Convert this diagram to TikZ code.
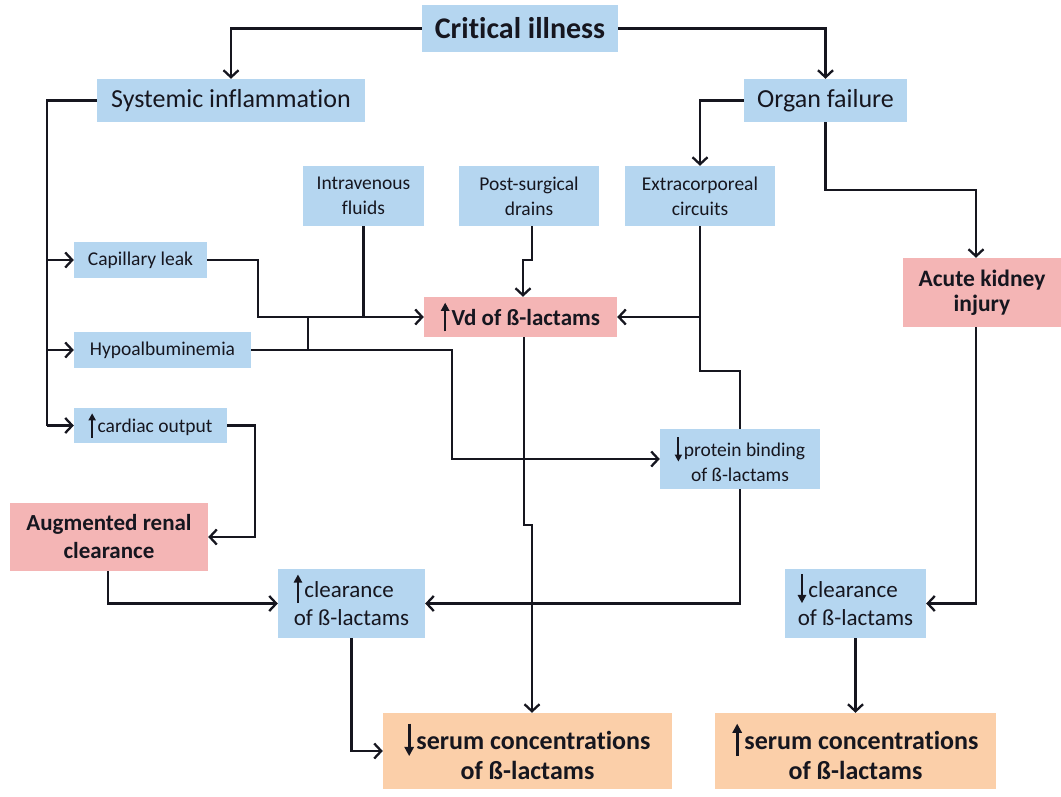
\documentclass[tikz,border=0pt]{standalone}
\usepackage{fontspec}
\setmainfont{Carlito}[Ligatures={NoCommon}]
\usetikzlibrary{arrows.meta}
\definecolor{bbl}{HTML}{B5D6F0}
\definecolor{bpk}{HTML}{F4B5B5}
\definecolor{bor}{HTML}{FBCFA9}
\definecolor{txt}{HTML}{16161F}
\newcommand{\uarr}{\tikz[baseline=0pt]\draw[txt,line width=0.11em,-{Triangle[length=0.36em,width=0.36em]}] (0,-0.25em) -- (0,1.0em);\hspace{0.1em}}
\newcommand{\darr}{\tikz[baseline=0pt]\draw[txt,line width=0.11em,-{Triangle[length=0.36em,width=0.36em]}] (0,1.0em) -- (0,-0.25em);\hspace{0.1em}}
\tikzset{
  box/.style={rectangle, inner sep=0pt, text=txt, align=center},
  bluebox/.style={box, fill=bbl},
  pinkbox/.style={box, fill=bpk},
  orbox/.style={box, fill=bor},
  small/.style={font=\fontsize{19.5}{25}\selectfont},
  mid/.style={font=\fontsize{23}{28}\selectfont},
  big/.style={font=\fontsize{26}{30}\selectfont},
  conn/.style={draw=txt, line width=2.3pt},
  arr/.style={conn, -{Straight Barb[length=7pt,width=15pt,line width=2.3pt]}},
}
\begin{document}
\begin{tikzpicture}[x=1pt,y=-1pt]
\useasboundingbox (0,0) rectangle (1061,797);
% nodes
\node[bluebox, minimum width=196pt, minimum height=47pt, font=\fontsize{30}{34}\selectfont\bfseries] (CI) at (520,28.5) {Critical illness};
\node[bluebox, big, minimum width=268pt, minimum height=43pt] (SI) at (231,100.5) {Systemic inflammation};
\node[bluebox, big, minimum width=163pt, minimum height=43pt] (OF) at (825.5,100.5) {Organ failure};
\node[bluebox, small, minimum width=121pt, minimum height=60pt] (IV) at (363.5,196) {Intravenous\\fluids};
\node[bluebox, small, minimum width=140pt, minimum height=60pt] (PS) at (529,196) {Post-surgical\\drains};
\node[bluebox, small, minimum width=150pt, minimum height=60pt] (EC) at (700,196) {Extracorporeal\\circuits};
\node[pinkbox, font=\fontsize{23.5}{25}\selectfont\bfseries, minimum width=158pt, minimum height=69pt] (AKI) at (982,292.5) {Acute kidney\\injury};
\node[bluebox, small, minimum width=133pt, minimum height=36pt] (CL) at (140.5,260) {Capillary leak};
\node[bluebox, small, minimum width=177pt, minimum height=36pt] (HA) at (162.5,350) {Hypoalbuminemia};
\node[pinkbox, font=\fontsize{23}{28}\selectfont\bfseries, minimum width=193pt, minimum height=40pt] (VD) at (520.5,317) {\uarr Vd of ß-lactams};
\node[bluebox, small, minimum width=153pt, minimum height=35pt] (CO) at (150.5,425.5) {\uarr cardiac output};
\node[pinkbox, font=\fontsize{23}{28}\selectfont\bfseries, minimum width=198pt, minimum height=68pt] (ARC) at (109,537) {Augmented renal\\clearance};
\node[bluebox, small, minimum width=160pt, minimum height=60pt] (PB) at (740,459) {\darr protein binding\\of ß-lactams};
\node[bluebox, mid, minimum width=147pt, minimum height=69pt] (UC) at (351.5,603.5) {\begin{tabular}{@{}l@{}}\uarr clearance\\of ß-lactams\end{tabular}};
\node[bluebox, mid, minimum width=141pt, minimum height=69pt] (DC) at (855.5,603.5) {\begin{tabular}{@{}l@{}}\darr clearance\\of ß-lactams\end{tabular}};
\node[orbox, font=\fontsize{26}{30}\selectfont\bfseries, minimum width=289pt, minimum height=76pt] (DS) at (527.5,751) {\darr serum concentrations\\of ß-lactams};
\node[orbox, font=\fontsize{26}{30}\selectfont\bfseries, minimum width=281pt, minimum height=76pt] (US) at (855.5,751) {\uarr serum concentrations\\of ß-lactams};
% helper coordinates
\coordinate (trunk) at (47,100.5);
\coordinate (akx) at (976,190);
\coordinate (jn) at (308,317);
% connectors
\draw[arr] (CI.west) -| (SI.north);
\draw[arr] (CI.east) -| (OF.north);
\draw[conn] (SI.west) -- (trunk) -- (trunk |- CO.west);
\draw[arr] (trunk |- CL.west) -- (CL.west);
\draw[arr] (trunk |- HA.west) -- (HA.west);
\draw[arr] (trunk |- CO.west) -- (CO.west);
\draw[arr] (OF.west) -| (EC.north);
\draw[arr] (OF.south) |- (akx) -- (akx |- AKI.north);
\draw[arr] (CL.east) -| (258,317) -- (VD.west);
\draw[conn] (IV.south) -- (IV.south |- VD.west);
\draw[conn] (HA.east) -| (jn);
\draw[arr] (HA.east) -| (452,459) -- (PB.west);
\draw[arr] ([xshift=3pt]PS.south) -- ([xshift=3pt]PS.south |- 0,260) -| ([xshift=2.5pt]VD.north);
\draw[arr] (EC.south) |- (VD.east);
\draw[conn] (EC.south) -- (700,371) -| (PB.north);
\draw[arr] (PB.south) |- (UC.east);
\draw[arr] ([xshift=3.5pt]VD.south) |- (532,525) -- (532,0 |- DS.north);
\draw[arr] (CO.east) -| (255,537) -- (ARC.east);
\draw[arr] ([xshift=-1pt]ARC.south) |- (UC.west);
\draw[arr] (UC.south) |- (DS.west);
\draw[arr] (akx |- AKI.south) |- (DC.east);
\draw[arr] (DC.south) -- (US.north);
\end{tikzpicture}
\end{document}
